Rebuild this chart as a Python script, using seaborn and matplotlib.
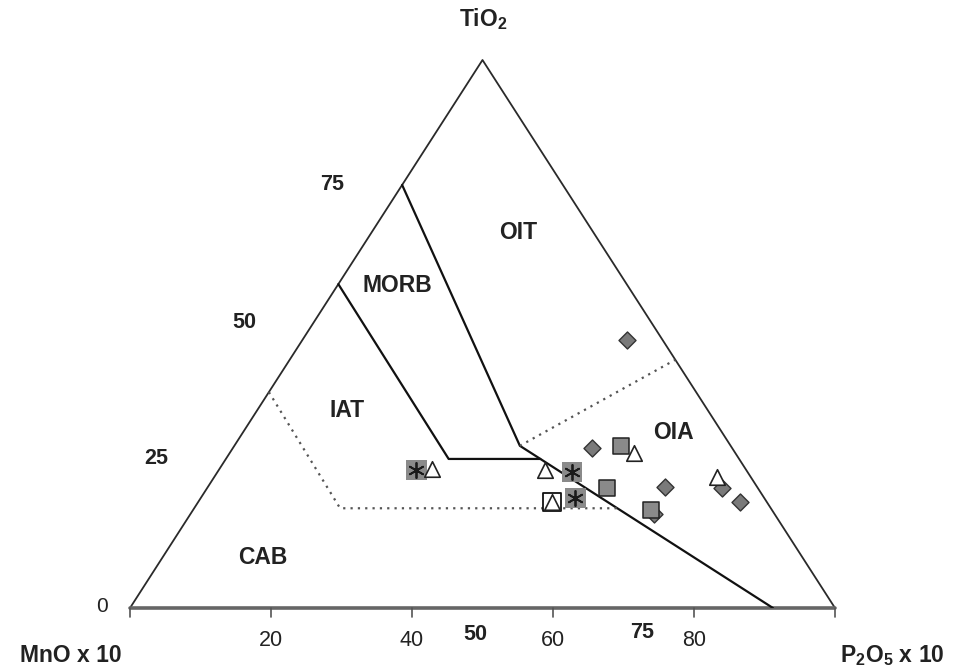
import matplotlib
matplotlib.use("Agg")
import matplotlib.pyplot as plt
import seaborn as sns
import numpy as np

sns.set_style("white")
plt.rcParams['font.family'] = ['Liberation Sans', 'DejaVu Sans']
plt.rcParams['mathtext.fontset'] = 'custom'
plt.rcParams['mathtext.rm'] = 'Liberation Sans'
plt.rcParams['mathtext.bf'] = 'Liberation Sans:bold'

# ---- sample compositions (%): TiO2, MnO x10, P2O5 x10 ----
diamond_tio2 = [48.9, 29.2, 22.1, 17.2, 21.9, 19.3]
diamond_mno = [5.0, 19.9, 13.1, 17.1, 5.1, 3.8]
diamond_p2o5 = [46.1, 50.9, 64.8, 65.7, 73.0, 76.9]

square_tio2 = [29.6, 21.9, 17.9]
square_mno = [15.6, 21.4, 17.1]
square_p2o5 = [54.8, 56.7, 65.0]

star_tio2 = [25.2, 24.8, 20.1]
star_mno = [46.8, 24.9, 26.8]
star_p2o5 = [28.0, 50.3, 53.1]

triangle_tio2 = [25.4, 25.2, 19.3, 28.3, 23.9]
triangle_mno = [44.5, 28.5, 30.5, 14.4, 4.8]
triangle_p2o5 = [30.1, 46.3, 50.2, 57.3, 71.3]

opensq_tio2 = [19.3]
opensq_mno = [30.5]
opensq_p2o5 = [50.2]

# ---- field boundaries (%): TiO2, MnO, P2O5 ----
solid1_tio2 = [77.2, 29.6, 0.0]
solid1_mno = [22.8, 29.9, 8.8]
solid1_p2o5 = [0.0, 40.5, 91.2]

solid2_tio2 = [59.1, 27.2, 27.2]
solid2_mno = [40.9, 41.2, 28.2]
solid2_p2o5 = [0.0, 31.6, 44.6]

dot1_tio2 = [39.4, 18.2, 18.2]
dot1_mno = [60.6, 61.1, 21.8]
dot1_p2o5 = [0.0, 20.7, 60.0]

dot2_tio2 = [29.6, 45.3]
dot2_mno = [29.9, 0.0]
dot2_p2o5 = [40.5, 54.7]

field_names = ["OIT", "MORB", "IAT", "OIA", "CAB"]
field_tio2 = [68.6, 58.8, 36.0, 32.1, 9.3]
field_mno = [10.7, 32.7, 51.2, 6.8, 76.5]
field_p2o5 = [20.7, 8.5, 12.8, 61.1, 14.2]

bottom_ticks = [20, 40, 60, 80]
left_ticks = [25, 50, 75]


def tern(t, m, p):
    t = np.asarray(t, float); m = np.asarray(m, float); p = np.asarray(p, float)
    s = t + m + p
    return (p + t / 2) / s, t / s


W, H = 956, 667
fig = plt.figure(figsize=(W / 100, H / 100), dpi=100)
fig.patch.set_facecolor("white")
ax = fig.add_axes([130 / W, 1 - 608 / H, 705 / W, 548 / H])
ax.set_xlim(0, 1)
ax.set_ylim(0, 1)
ax.axis("off")

# triangle outline
ax.plot([0, 0.5, 1], [0, 1, 0], color="#2a2a2a", lw=1.3, clip_on=False, zorder=2)
ax.plot([0, 1], [0, 0], color="#666666", lw=2.6, clip_on=False, zorder=2)
for v in [0, 20, 40, 60, 80, 100]:
    ax.plot([v / 100, v / 100], [0, -9 / 548], color="#555555", lw=1.2, clip_on=False)

# boundaries
for tt, mm, pp in [(solid1_tio2, solid1_mno, solid1_p2o5), (solid2_tio2, solid2_mno, solid2_p2o5)]:
    x, y = tern(tt, mm, pp)
    ax.plot(x, y, color="#111111", lw=1.6, zorder=3)
for tt, mm, pp in [(dot1_tio2, dot1_mno, dot1_p2o5), (dot2_tio2, dot2_mno, dot2_p2o5)]:
    x, y = tern(tt, mm, pp)
    ax.plot(x, y, color="#555555", lw=1.6, ls=(0, (1, 2.3)), zorder=3)

# markers
x, y = tern(diamond_tio2, diamond_mno, diamond_p2o5)
sns.scatterplot(x=x, y=y, ax=ax, marker="D", s=75, color="#7a7a7a",
                edgecolor="#333333", linewidth=1.0, zorder=5, legend=False)
x, y = tern(square_tio2, square_mno, square_p2o5)
sns.scatterplot(x=x, y=y, ax=ax, marker="s", s=130, color="#8a8a8a",
                edgecolor="#222222", linewidth=1.1, zorder=6, legend=False)
x, y = tern(star_tio2, star_mno, star_p2o5)
sns.scatterplot(x=x, y=y, ax=ax, marker="s", s=220, color="#8a8a8a",
                edgecolor="none", linewidth=0, zorder=7, legend=False)
ax.scatter(x, y, marker=(6, 2, 0), s=120, color="#1a1a1a", linewidths=1.3, zorder=8)
x, y = tern(opensq_tio2, opensq_mno, opensq_p2o5)
sns.scatterplot(x=x, y=y, ax=ax, marker="s", s=150, color="white",
                edgecolor="#111111", linewidth=1.3, zorder=8, legend=False)
x, y = tern(triangle_tio2, triangle_mno, triangle_p2o5)
sns.scatterplot(x=x, y=y, ax=ax, marker="^", s=125, color="white",
                edgecolor="#222222", linewidth=1.2, zorder=9, legend=False)

# field labels
x, y = tern(field_tio2, field_mno, field_p2o5)
for name, xi, yi in zip(field_names, x, y):
    ax.text(xi, yi, name, ha="center", va="center", fontsize=16.5, fontweight="bold",
            color="#222222", zorder=10)


def ftxt(px, py, s, **kw):
    fig.text(px / W, 1 - py / H, s, ha="center", va="center", color="#222222", **kw)


# left tick labels (offset outward from left edge)
for v in left_ticks:
    ex = 130 + (v / 200) * 705
    ey = 608 - (v / 100) * 548
    ftxt(ex - 62, ey - 12, str(v), fontsize=15.5, fontweight="bold")
ftxt(102, 606, "0", fontsize=15)

for v in bottom_ticks:
    ftxt(130 + v / 100 * 705, 641, str(v), fontsize=15.5)
ftxt(475, 634, "50", fontsize=15.5, fontweight="bold")
ftxt(642, 633, "75", fontsize=15.5, fontweight="bold")

ftxt(71, 656, "MnO x 10", fontsize=16.5, fontweight="bold")
ftxt(892, 656, r"$\mathbf{P_2O_5}$" + " x 10", fontsize=16.5, fontweight="bold")
ftxt(483, 19, r"$\mathbf{TiO_2}$", fontsize=16.5, fontweight="bold")

fig.savefig("out.png", dpi=100, facecolor="white")
